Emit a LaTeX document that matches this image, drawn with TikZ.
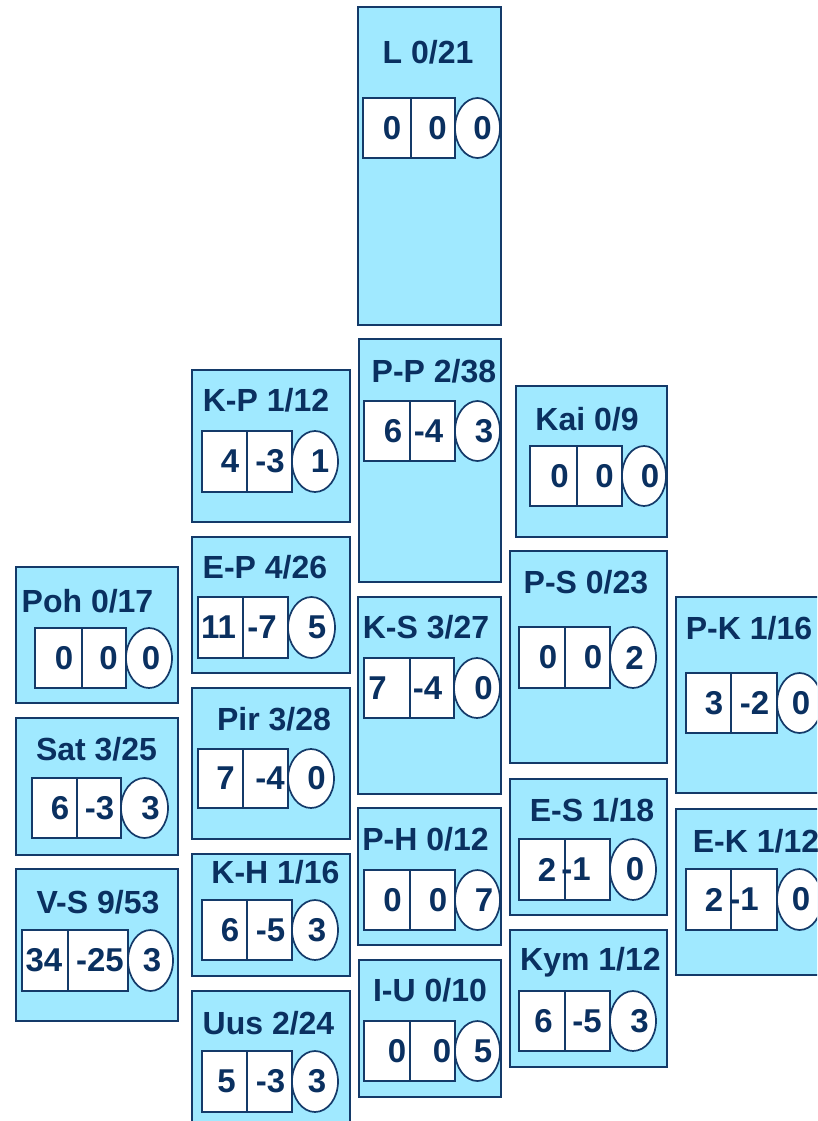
\documentclass[tikz,border=0pt]{standalone}
\usepackage{fontspec}
\setmainfont{Liberation Sans}
\usetikzlibrary{shapes.geometric}
\definecolor{panelfill}{RGB}{160,233,255}
\definecolor{panelline}{RGB}{20,58,105}
\definecolor{ink}{RGB}{10,48,96}
\tikzset{
  panel/.style={draw=panelline, line width=2pt, fill=panelfill, inner sep=0pt, outer sep=0pt, anchor=north west},
  cellbox/.style={draw=panelline, line width=2pt, fill=white, inner sep=0pt, outer sep=0pt},
  cellellipse/.style={ellipse, draw=panelline, line width=1.7pt, fill=white, inner sep=0pt, outer sep=0pt},
  numtext/.style={text=ink, font=\bfseries\fontsize{33}{38}\selectfont, inner sep=0pt},
  titletext/.style={text=ink, font=\bfseries\fontsize{32}{37}\selectfont, inner sep=0pt, anchor=base},
}
\newcommand\panelbox[5]{%
  \node[panel, minimum width={(#4-#2)*1pt}, minimum height={(#5-#3)*1pt}] (#1) at (#2,#3) {};}
\newcommand\cells[7]{%
  \node[cellbox, minimum width={(#3-#2)*1pt}, minimum height={(#7-#6)*1pt}] (#1-a) at ({(#2+#3)/2},{(#6+#7)/2}) {};
  \node[cellbox, minimum width={(#4-#3)*1pt}, minimum height={(#7-#6)*1pt}] (#1-b) at ({(#3+#4)/2},{(#6+#7)/2}) {};
  \node[cellellipse, minimum width={(#5-#4)*1pt}, minimum height={(#7-#6)*1pt}] (#1-c) at ({(#4+#5)/2},{(#6+#7)/2}) {};}
\newcommand\nums[7]{%
  \node[numtext] (#1-na) at (#2,0 |- #1-a) {#5};
  \node[numtext] (#1-nb) at (#3,0 |- #1-b) {#6};
  \node[numtext] (#1-nc) at (#4,0 |- #1-c) {#7};}
\newcommand\ttl[4]{\node[titletext] (#1-t) at (#2,#3) {#4};}
\begin{document}
\begin{tikzpicture}[x=1pt,y=-1pt]
\useasboundingbox (0,0) rectangle (817,1121);
\clip (0,0) rectangle (817,1121);
% column 3
\panelbox{L}{358}{7}{501}{325}
\panelbox{PP}{359}{339}{501}{582}
\panelbox{KS}{358}{597}{501}{794}
\panelbox{PH}{358}{808}{501}{945}
\panelbox{IU}{359}{960}{501}{1097}
% column 2
\panelbox{KP}{192}{370}{350}{522}
\panelbox{EP}{192}{537}{350}{673}
\panelbox{Pir}{192}{688}{350}{839}
\panelbox{KH}{192}{854}{350}{976}
\panelbox{Uus}{192}{991}{350}{1135}
% column 1
\panelbox{Poh}{16}{567}{178}{703}
\panelbox{Sat}{16}{718}{178}{855}
\panelbox{VS}{16}{869}{178}{1021}
% column 4
\panelbox{Kai}{516}{386}{667}{537}
\panelbox{PS}{510}{551}{667}{763}
\panelbox{ES}{510}{779}{667}{915}
\panelbox{Kym}{510}{930}{667}{1067}
% column 5
\panelbox{PK}{676}{597}{840}{793}
\panelbox{EK}{676}{809}{840}{975}

% titles
\ttl{L}{428}{64}{L 0/21}
\ttl{PP}{434}{382}{P-P 2/38}
\ttl{KS}{426}{638}{K-S 3/27}
\ttl{PH}{425.5}{850}{P-H 0/12}
\ttl{IU}{430}{1001}{I-U 0/10}
\ttl{KP}{266}{411}{K-P 1/12}
\ttl{EP}{265}{578}{E-P 4/26}
\ttl{Pir}{274}{730}{Pir 3/28}
\ttl{KH}{275.5}{883}{K-H 1/16}
\ttl{Uus}{268.5}{1034}{Uus 2/24}
\ttl{Poh}{87.5}{612}{Poh 0/17}
\ttl{Sat}{96.5}{760}{Sat 3/25}
\ttl{VS}{98}{913}{V-S 9/53}
\ttl{Kai}{587}{430}{Kai 0/9}
\ttl{PS}{586}{593}{P-S 0/23}
\ttl{ES}{592}{821}{E-S 1/18}
\ttl{Kym}{590.5}{970}{Kym 1/12}
\ttl{PK}{749}{639}{P-K 1/16}
\ttl{EK}{756}{852}{E-K 1/12}

% cells
\cells{L}{363}{411}{455}{500}{98}{158}
\nums{L}{392}{437.5}{482.5}{0}{0}{0}
\cells{PP}{364}{410}{455}{500}{401}{461}
\nums{PP}{393}{428.5}{484}{6}{-4}{3}
\cells{KS}{364}{410}{454}{500}{658}{718}
\nums{KS}{377.5}{427.5}{483.5}{7}{-4}{0}
\cells{PH}{364}{410}{455}{500}{870}{930}
\nums{PH}{392.5}{438}{484}{0}{0}{7}
\cells{IU}{364}{410}{455}{500}{1021}{1081}
\nums{IU}{397}{442}{483}{0}{0}{5}
\cells{KP}{202}{247}{292}{338}{431}{492}
\nums{KP}{230}{270}{320}{4}{-3}{1}
\cells{EP}{198}{243}{288}{335}{597}{658}
\nums{EP}{218.5}{262}{317}{11}{-7}{5}
\cells{Pir}{198}{243}{288}{334}{749}{808}
\nums{Pir}{225.5}{270}{316.5}{7}{-4}{0}
\cells{KH}{202}{247}{292}{338}{900}{960}
\nums{KH}{230}{270.5}{317}{6}{-5}{3}
\cells{Uus}{202}{247}{292}{338}{1051}{1112}
\nums{Uus}{226.5}{270.5}{317}{5}{-3}{3}
\cells{Poh}{35}{82}{126}{172}{628}{688}
\nums{Poh}{64}{108.5}{151}{0}{0}{0}
\cells{Sat}{32}{77}{121}{168}{778}{838}
\nums{Sat}{60}{99.5}{150.5}{6}{-3}{3}
\cells{VS}{22}{68}{128}{173}{930}{991}
\nums{VS}{44}{100}{152}{34}{-25}{3}
\cells{Kai}{530}{577}{622}{666}{446}{506}
\nums{Kai}{559.5}{604.5}{650}{0}{0}{0}
\cells{PS}{519}{565}{610}{656}{627}{688}
\nums{PS}{548}{593}{634.5}{0}{0}{2}
\cells{ES}{519}{565}{610}{656}{839}{900}
\nums{ES}{547}{576}{635}{2}{-1}{0}
\cells{Kym}{519}{565}{610}{656}{991}{1051}
\nums{Kym}{543.5}{587}{639.5}{6}{-5}{3}
\cells{PK}{686}{731}{777}{822}{673}{733}
\nums{PK}{714}{754.5}{801}{3}{-2}{0}
\cells{EK}{686}{731}{777}{822}{869}{930}
\nums{EK}{714}{744}{801}{2}{-1}{0}
\end{tikzpicture}
\end{document}
